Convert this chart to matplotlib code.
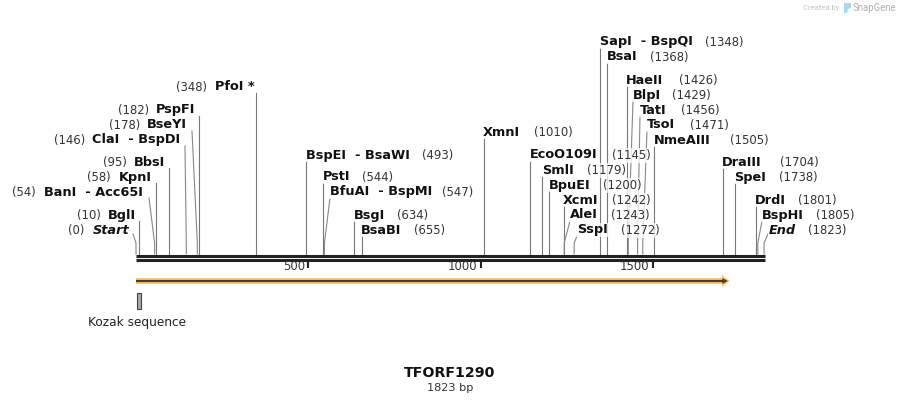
import matplotlib
matplotlib.use("Agg")
import matplotlib.pyplot as plt
from matplotlib.patches import Rectangle, Polygon

## Sequence data

seq_name = "TFORF1290"
seq_len = 1823
ticks = [500, 1000, 1500]
orf_range = (0, 1724)
kozak_range = (4, 14)
kozak_name = "Kozak sequence"

enzymes = ["Start", "BglI", "BanI  - Acc65I", "KpnI", "BbsI", "ClaI  - BspDI", "BseYI", "PspFI", "PfoI *",
           "BspEI  - BsaWI", "PstI", "BfuAI  - BspMI", "BsgI", "BsaBI", "XmnI", "EcoO109I", "SmlI", "BpuEI",
           "XcmI", "AleI", "SspI", "SapI  - BspQI", "BsaI", "HaeII", "BlpI", "TatI", "TsoI", "NmeAIII",
           "DraIII", "SpeI", "DrdI", "BspHI", "End"]
sites = [0, 10, 54, 58, 95, 146, 178, 182, 348,
         493, 544, 547, 634, 655, 1010, 1145, 1179, 1200,
         1242, 1243, 1272, 1348, 1368, 1426, 1429, 1456, 1471, 1505,
         1704, 1738, 1801, 1805, 1823]

## Label layout (pixels)

name_x = [93, 108, 44, 119, 134, 92, 147, 156, 215,
          306, 323, 330, 354, 361, 483, 530, 542, 549,
          563, 570, 577, 600, 607, 626, 633, 640, 647, 654,
          722, 734, 755, 762, 769]
num_x = [68, 77, 12, 87, 103, 54, 109, 118, 176,
         422, 362, 442, 397, 414, 534, 612, 587, 603,
         612, 611, 621, 705, 650, 679, 672, 681, 690, 730,
         780, 779, 798, 816, 808]
row_y = [230, 215, 192, 177, 162, 140, 125, 110, 87,
         155, 177, 192, 215, 230, 132, 155, 170, 185,
         200, 215, 230, 42, 57, 80, 95, 110, 125, 140,
         162, 177, 200, 215, 230]
# where a slanted leader ends, None means the line goes straight up
lead_x = [133, None, 149, None, None, 185, 192, None, None,
          None, None, 330, None, None, None, None, None, None,
          None, 570, 577, None, None, None, 633, 640, 647, None,
          None, None, None, 762, 768]

x0 = 136
px_per_bp = 0.3445

def px(x):
    return (x - x0) / px_per_bp

fig = plt.figure(figsize=(9.01, 4.04), dpi=100)
ax = fig.add_axes([0, 0, 1, 1])
ax.set_xlim(px(0), px(901))
ax.set_ylim(404, 0)
ax.axis("off")

fs = 8.7
name_fs = 9.3
num_color = "#333333"
halo = dict(facecolor="white", edgecolor="none", alpha=0.75, pad=0.6)

## Site lines and labels

for i, name in enumerate(enzymes):
    y = row_y[i]
    if lead_x[i] is None:
        ax.plot([sites[i], sites[i]], [254, y + 6], color="#777777", lw=0.8, zorder=1)
    else:
        ax.plot([sites[i], sites[i], px(lead_x[i])], [254, 243, y + (4 if name in ("Start", "End") else 6)],
                color="#888888", lw=0.8, zorder=1)
    style = "italic" if name in ("Start", "End") else "normal"
    ax.text(px(name_x[i]), y, name, fontsize=name_fs, fontweight="bold", fontstyle=style,
            va="center", ha="left", color="#111111", zorder=3, bbox=halo)
    ax.text(px(num_x[i]), y + 0.5, "(%d)" % sites[i], fontsize=fs - 0.3,
            va="center", ha="left", color=num_color, zorder=3, bbox=halo)

## Sequence bar and ticks

ax.hlines([255.5, 259.5], 0, seq_len + 2, color="#222222", lw=2.2, zorder=2)
ax.vlines(ticks, 261, 268, color="#222222", lw=1.5, zorder=2)
for t in ticks:
    ax.text(t - 3.5 / px_per_bp, 267, str(t), fontsize=fs - 0.3, ha="right", va="center", color="#333333")

## ORF arrow

ax.hlines(281, orf_range[0], orf_range[1] - 20, color="#ffc870", lw=4.3, zorder=2)
ax.add_patch(Polygon([(orf_range[1] - 23, 275), (orf_range[1], 281), (orf_range[1] - 23, 287)],
                     facecolor="#ffc870", edgecolor="none", zorder=2))
ax.hlines(281, orf_range[0], orf_range[1] - 10, color="#4a3f2a", lw=1.6, zorder=3)
ax.add_patch(Polygon([(orf_range[1] - 22, 278), (orf_range[1] - 6, 281), (orf_range[1] - 22, 284)],
                     facecolor="#4a3f2a", edgecolor="none", zorder=3))

## Kozak feature

ax.add_patch(Rectangle((kozak_range[0], 293), kozak_range[1] - kozak_range[0], 16,
                       facecolor="#a5a9b0", edgecolor="#444444", lw=0.8, zorder=2))
ax.text(px(137), 322.5, kozak_name, fontsize=fs, ha="center", va="center", color="#222222")

## Title

ax.text(px(450), 373, seq_name, fontsize=10.2, fontweight="bold", ha="center", va="center", color="#111111")
ax.text(px(450), 388, "%d bp" % seq_len, fontsize=fs - 0.6, ha="center", va="center", color="#333333")

## SnapGene mark

ax.text(px(803), 8, "Created by", fontsize=5.5, family="Roboto", ha="left", va="center", color="#c4c4c4")
ax.add_patch(Polygon([(px(844), 3), (px(851), 3), (px(851), 8), (px(848), 9), (px(847), 13), (px(844), 13)],
                     facecolor="#a6d8f2", edgecolor="none"))
ax.text(px(853), 8, "SnapGene", fontsize=6.9, family="Roboto", ha="left", va="center", color="#b0b0b0")

fig.savefig("out.png", dpi=100)
